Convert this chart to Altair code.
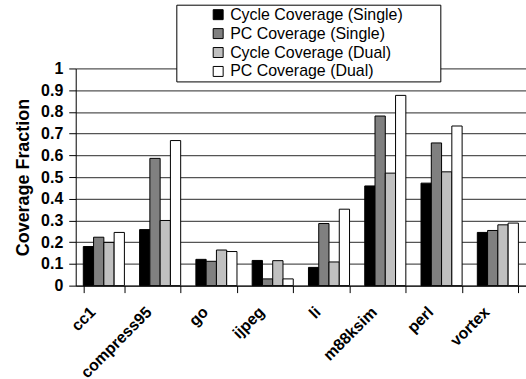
import altair as alt
import pandas as pd

benchmarks = ["cc1", "compress95", "go", "ijpeg", "li", "m88ksim", "perl", "vortex"]
series = ["Cycle Coverage (Single)", "PC Coverage (Single)",
          "Cycle Coverage (Dual)", "PC Coverage (Dual)"]
cycle_single = [0.180, 0.258, 0.121, 0.116, 0.084, 0.459, 0.472, 0.245]
pc_single = [0.223, 0.586, 0.112, 0.031, 0.286, 0.781, 0.657, 0.254]
cycle_dual = [0.199, 0.300, 0.164, 0.115, 0.109, 0.518, 0.524, 0.280]
pc_dual = [0.245, 0.668, 0.157, 0.031, 0.352, 0.876, 0.735, 0.288]
y_ticks = [0, 0.1, 0.2, 0.3, 0.4, 0.5, 0.6, 0.7, 0.8, 0.9, 1]
colors = ["#000000", "#808080", "#C0C0C0", "#FFFFFF"]

rows = []
for s, vals in zip(series, [cycle_single, pc_single, cycle_dual, pc_dual]):
    for b, v in zip(benchmarks, vals):
        rows.append({"benchmark": b, "series": s, "value": v})
df = pd.DataFrame(rows)

FONT = "Liberation Sans"
PAD_RIGHT = "\u00a0" * 8 + "\u200b"

chart = alt.Chart(df).mark_bar(stroke="black", strokeWidth=1).encode(
    x=alt.X("benchmark:N", sort=benchmarks,
            scale=alt.Scale(paddingInner=0.27, paddingOuter=0.135),
            axis=alt.Axis(title=None, labelAngle=-45, labelFont=FONT,
                          labelFontWeight="bold", labelFontSize=16,
                          labelColor="black", tickBand="extent", ticks=True,
                          tickSize=7, tickColor="black", domainColor="black",
                          labelPadding=11, labelOffset=-17, labelLimit=300,
                          grid=False)),
    xOffset=alt.XOffset("series:N", sort=series,
                        scale=alt.Scale(paddingInner=0, paddingOuter=0)),
    y=alt.Y("value:Q", scale=alt.Scale(domain=[0, 1], nice=False),
            axis=alt.Axis(values=y_ticks, format="~g", title="Coverage Fraction",
                          titleFont=FONT, titleFontSize=18, titleFontWeight="bold",
                          titleColor="black", titlePadding=8,
                          labelFont=FONT, labelFontSize=16, labelFontWeight="bold",
                          labelColor="black", tickSize=7, tickColor="black",
                          domainColor="black", labelPadding=6, grid=True,
                          gridColor="#555555", gridWidth=1.2)),
    color=alt.Color("series:N", sort=series,
                    scale=alt.Scale(domain=series, range=colors),
                    legend=alt.Legend(orient="none", legendX=101, legendY=-64,
                                      title=" ", titleOrient="right", titlePadding=0,
                                      titleFontSize=16,
                                      labelFont=FONT, labelFontSize=16,
                                      labelColor="black", labelLimit=400,
                                      labelExpr="datum.label + '" + PAD_RIGHT + "'",
                                      symbolType="square", symbolSize=100,
                                      symbolOffset=32,
                                      symbolStrokeColor="black", symbolStrokeWidth=1,
                                      labelOffset=4, rowPadding=3, padding=2,
                                      strokeColor="black", fillColor="white")),
).properties(
    width=452, height=218,
    autosize=alt.AutoSizeParams(type="none"),
    padding={"left": 76, "top": 68, "right": 0, "bottom": 93},
).configure_view(stroke=None)

chart.save("out.html", embed_options={"renderer": "svg", "actions": False})
